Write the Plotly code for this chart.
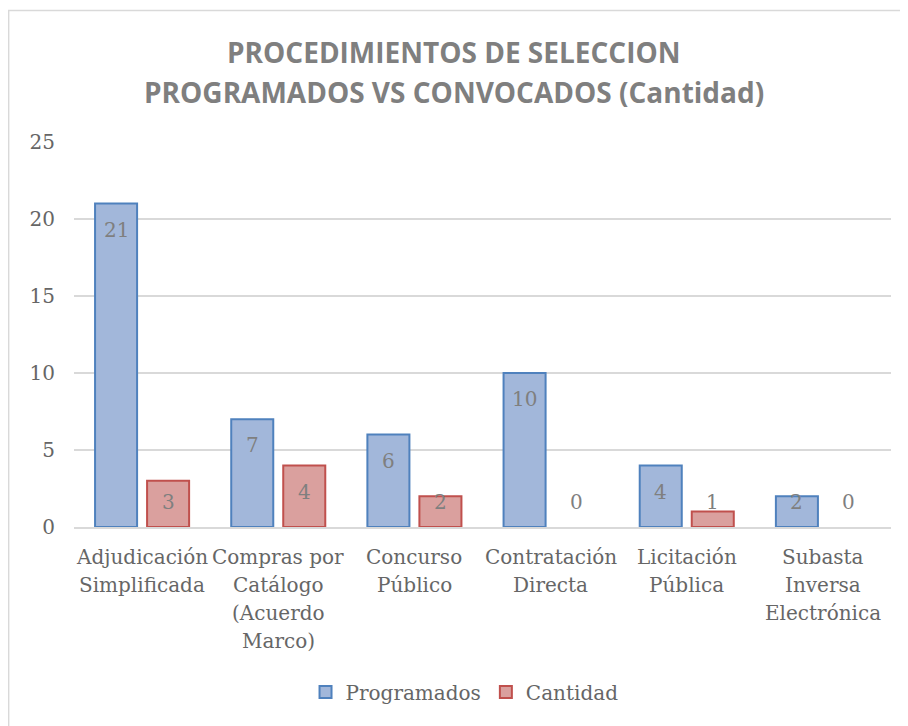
import plotly.graph_objects as go

categories = ["Adjudicación Simplificada", "Compras por Catálogo (Acuerdo Marco)",
              "Concurso Público", "Contratación Directa", "Licitación Pública",
              "Subasta Inversa Electrónica"]
category_lines = [["Adjudicación", "Simplificada"],
                  ["Compras por", "Catálogo", "(Acuerdo", "Marco)"],
                  ["Concurso", "Público"],
                  ["Contratación", "Directa"],
                  ["Licitación", "Pública"],
                  ["Subasta", "Inversa", "Electrónica"]]
programados = [21, 7, 6, 10, 4, 2]
cantidad = [3, 4, 2, 0, 1, 0]
y_ticks = [0, 5, 10, 15, 20, 25]
title_lines = ["PROCEDIMIENTOS DE SELECCION", "PROGRAMADOS VS CONVOCADOS (Cantidad)"]

SERIF = "DejaVu Serif"
GRAY = "#7f7f7f"
TICK = "#666666"
FS = 20

fig = go.Figure()
fig.add_trace(go.Bar(name="Programados", x=categories, y=programados,
                     marker=dict(color="#a2b7da",
                                 line=dict(color="#4f81bd",
                                           width=[2 if v > 0 else 0 for v in programados]))))
fig.add_trace(go.Bar(name="Cantidad", x=categories, y=cantidad,
                     marker=dict(color="#daa09e",
                                 line=dict(color="#c0504d",
                                           width=[2 if v > 0 else 0 for v in cantidad]))))

# data labels (Excel "inside end" style)
offsets = {"Programados": -26, "Cantidad": 26}
for name, vals in (("Programados", programados), ("Cantidad", cantidad)):
    for c, v in zip(categories, vals):
        ypos = max(v - 1.7, 1.6)
        fig.add_annotation(x=c, y=ypos, text=str(v), showarrow=False,
                           xshift=offsets[name], yanchor="middle",
                           font=dict(family=SERIF, size=FS, color=GRAY))

# category labels (one annotation per line for Excel-like line spacing)
for c, lines in zip(categories, category_lines):
    for i, ln in enumerate(lines):
        fig.add_annotation(x=c, y=0, text=ln, showarrow=False, yanchor="middle",
                           yshift=-30 - 28 * i,
                           font=dict(family=SERIF, size=FS, color=TICK))

# title (two lines, Excel-like spacing)
for yy, ln in zip([1.2338, 1.1299], title_lines):
    fig.add_annotation(xref="paper", yref="paper", x=0.465, y=yy, text="<b>" + ln + "</b>",
                       showarrow=False, xanchor="center", yanchor="middle",
                       font=dict(family="Open Sans", size=28, color=GRAY))

# outer chart border
fig.add_shape(type="rect", xref="paper", yref="paper", x0=-0.080, x1=1.2,
              y0=-1.0, y1=1.3416, line=dict(color="#d9d9d9", width=1.5),
              fillcolor="rgba(0,0,0,0)", layer="below")

fig.update_layout(
    width=900, height=718,
    margin=dict(l=66, r=17, t=134, b=199),
    paper_bgcolor="white", plot_bgcolor="white",
    barmode="group", bargap=0.236, bargroupgap=0.192,
    legend=dict(orientation="h", x=0.478, xanchor="center", y=-0.4286, yanchor="middle",
                font=dict(family=SERIF, size=FS, color=TICK), itemwidth=30,
                traceorder="normal"),
    xaxis=dict(showticklabels=False, showgrid=False, showline=True,
               linecolor="#d9d9d9", linewidth=1.5, ticks=""),
    yaxis=dict(range=[0, 25], tickvals=y_ticks, showgrid=True, gridcolor="#d9d9d9",
               gridwidth=1.5, zeroline=False, showline=False, ticks="",
               tickfont=dict(family=SERIF, size=FS, color=TICK), ticklabelstandoff=18),
    showlegend=True,
)

fig.write_html("out.html")
